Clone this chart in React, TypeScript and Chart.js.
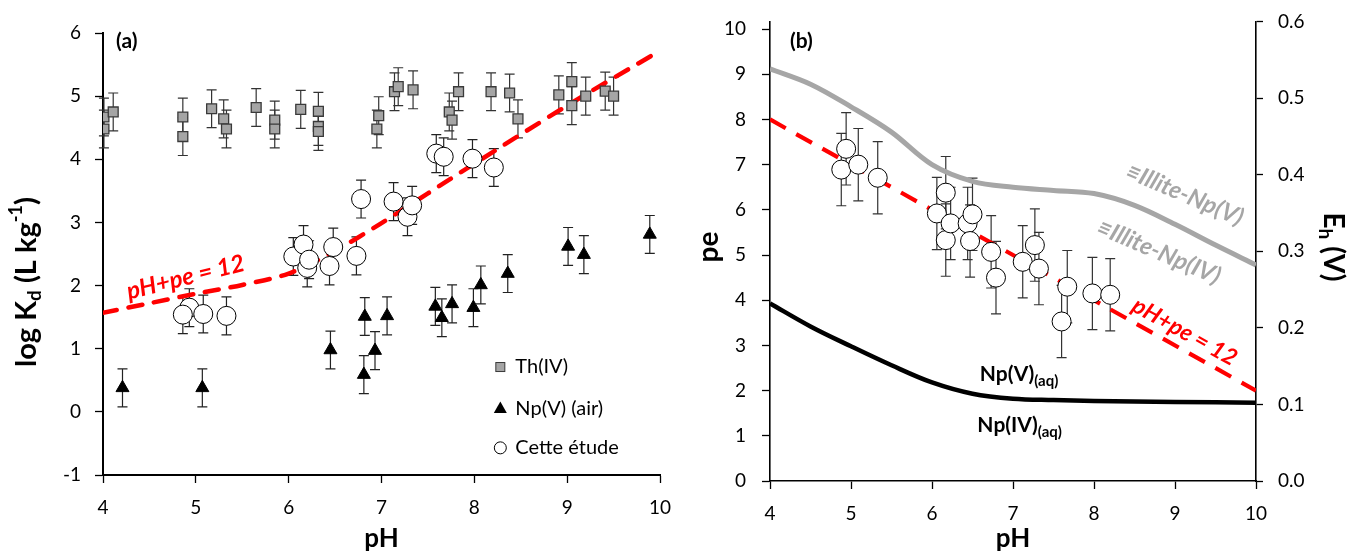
import React, { useEffect, useRef } from "react";
import { Chart, registerables } from "chart.js";
Chart.register(...registerables);

const FONT = "Lato, 'Open Sans', sans-serif";

// ---------- Panel (a) data ----------
const thPH = [4.01, 4.01, 4.11, 4.86, 4.86, 5.17, 5.30, 5.33, 5.65, 5.85, 5.85, 6.13, 6.32, 6.32, 6.32, 6.95, 6.97, 7.14, 7.18, 7.34, 7.73, 7.76, 7.83, 8.18, 8.38, 8.47, 8.91, 9.05, 9.05, 9.20, 9.41, 9.50];
const thLogKd = [4.67, 4.48, 4.75, 4.67, 4.36, 4.80, 4.64, 4.48, 4.82, 4.62, 4.48, 4.79, 4.76, 4.52, 4.44, 4.48, 4.69, 5.07, 5.15, 5.10, 4.75, 4.62, 5.07, 5.07, 5.05, 4.64, 5.02, 5.23, 4.85, 5.00, 5.08, 5.00];
const thErr = 0.3;

const npPH = [4.21, 5.07, 6.45, 6.81, 6.82, 6.93, 7.06, 7.58, 7.65, 7.76, 7.99, 8.07, 8.36, 9.01, 9.18, 9.89];
const npLogKd = [0.38, 0.38, 0.98, 0.59, 1.51, 0.97, 1.52, 1.67, 1.49, 1.71, 1.65, 2.01, 2.19, 2.62, 2.49, 2.81];
const npErr = 0.3;

const studyPH = [4.93, 4.86, 5.08, 5.33, 6.05, 6.20, 6.16, 6.22, 6.44, 6.48, 6.73, 6.78, 7.13, 7.28, 7.33, 7.59, 7.67, 7.98, 8.21];
const studyLogKd = [1.65, 1.54, 1.55, 1.52, 2.46, 2.28, 2.65, 2.41, 2.31, 2.61, 2.47, 3.37, 3.33, 3.09, 3.27, 4.09, 4.04, 4.01, 3.87];
const studyErrA = 0.3;

const redLinePH_A = [4, 4.5, 5, 5.5, 6, 6.5, 7, 7.5, 8, 9, 10];
const redLineLogKd = [1.57, 1.72, 1.87, 2.01, 2.19, 2.55, 2.99, 3.46, 3.93, 4.85, 5.72];

const legendLabels = ["Th(IV)", "Np(V) (air)", "Cette étude"];

// ---------- Panel (b) data ----------
const studyPH_B = [4.88, 4.94, 5.09, 5.33, 6.06, 6.17, 6.17, 6.23, 6.44, 6.50, 6.47, 6.73, 6.79, 7.12, 7.27, 7.32, 7.60, 7.67, 7.98, 8.20];
const studyPe = [6.89, 7.35, 7.00, 6.71, 5.92, 6.38, 5.33, 5.70, 5.70, 5.90, 5.31, 5.07, 4.50, 4.85, 5.22, 4.70, 3.53, 4.30, 4.15, 4.12];
const studyErrB = 0.8;

const illitePH = [4, 4.5, 5, 5.5, 6, 6.5, 7, 7.5, 8, 8.5, 9, 9.5, 10];
const illitePe = [9.12, 8.78, 8.28, 7.72, 7.0, 6.63, 6.5, 6.43, 6.36, 6.1, 5.68, 5.22, 4.78];

const aqPH = [4, 4.5, 5, 5.5, 6, 6.5, 7, 7.5, 8, 9, 10];
const aqPe = [3.93, 3.42, 2.98, 2.56, 2.18, 1.93, 1.82, 1.79, 1.77, 1.75, 1.73];

const redLinePH_B = [4, 10];
const redLinePe = [8, 2];

const xTicks = [4, 5, 6, 7, 8, 9, 10];
const peTicks = [0, 1, 2, 3, 4, 5, 6, 7, 8, 9, 10];

// canvas B is drawn 6px higher so that its plot area starts at the reference's top edge
const B_SHIFT = 6;

// ---------- helpers ----------
type Seg = { t: string; size: number; dy?: number };
function drawSegs(ctx: CanvasRenderingContext2D, segs: Seg[], x: number, y: number, angle: number, weight: string, style: string, color: string, align: "center" | "left") {
  ctx.save();
  ctx.translate(x, y);
  ctx.rotate((angle * Math.PI) / 180);
  ctx.fillStyle = color;
  ctx.textBaseline = "middle";
  ctx.textAlign = "left";
  const fonts = segs.map((s) => `${style} ${weight} ${s.size}px ${FONT}`);
  let total = 0;
  segs.forEach((s, i) => { ctx.font = fonts[i]; total += ctx.measureText(s.t).width; });
  let cx = align === "center" ? -total / 2 : 0;
  segs.forEach((s, i) => {
    ctx.font = fonts[i];
    ctx.fillText(s.t, cx, s.dy || 0);
    cx += ctx.measureText(s.t).width;
  });
  ctx.restore();
}

const errorBarPlugin = {
  id: "errorBars",
  beforeDatasetsDraw(chart: any) {
    const ctx = chart.ctx;
    chart.data.datasets.forEach((ds: any, i: number) => {
      if (ds.errorBar == null) return;
      const meta = chart.getDatasetMeta(i);
      const ys = chart.scales[meta.yAxisID];
      ctx.save();
      ctx.strokeStyle = ds.errorColor || "#000";
      ctx.lineWidth = 1.2;
      meta.data.forEach((el: any, j: number) => {
        const v = ds.data[j].y;
        const x = el.x;
        const top = ys.getPixelForValue(v + ds.errorBar);
        const bot = ys.getPixelForValue(v - ds.errorBar);
        ctx.beginPath();
        ctx.moveTo(x, top); ctx.lineTo(x, bot);
        ctx.moveTo(x - 5, top); ctx.lineTo(x + 5, top);
        ctx.moveTo(x - 5, bot); ctx.lineTo(x + 5, bot);
        ctx.stroke();
      });
      ctx.restore();
    });
  },
};

const pts = (xs: number[], ys: number[]) => xs.map((x, i) => ({ x, y: ys[i] }));

const tickFont = { family: FONT, size: 19 };

function axisX(height: number, bw: number) {
  return {
    type: "linear",
    min: 4,
    max: 10,
    afterBuildTicks: (s: any) => { s.ticks = xTicks.map((v) => ({ value: v })); },
    ticks: { font: tickFont, color: "#000", padding: 13 },
    grid: { display: true, drawOnChartArea: false, tickLength: 8, color: "#000", tickColor: "#000", tickWidth: 1.3 },
    border: { display: true, color: "#000", width: bw },
    afterFit: (s: any) => { s.height = height; },
  };
}

export default function App() {
  const refA = useRef<HTMLCanvasElement>(null);
  const refB = useRef<HTMLCanvasElement>(null);

  useEffect(() => {
    document.body.style.margin = "0";

    const annotA = {
      id: "annotA",
      afterDraw(chart: any) {
        const ctx = chart.ctx;
        const xs = chart.scales.x, ys = chart.scales.y;
        const ca = chart.chartArea;
        drawSegs(ctx, [{ t: "(a)", size: 21 }], ca.left + 13, 41, 0, "bold", "normal", "#000", "left");
        drawSegs(ctx, [{ t: "pH+pe = 12", size: 24 }], xs.getPixelForValue(4.89), ys.getPixelForValue(2.13), -14, "bold", "italic", "#ff0000", "center");
        drawSegs(ctx, [{ t: "log K", size: 29 }, { t: "d", size: 19, dy: 8 }, { t: " (L kg", size: 29 }, { t: "-1", size: 18, dy: -11 }, { t: ")", size: 29 }], 27, 282, -90, "bold", "normal", "#000", "center");
        drawSegs(ctx, [{ t: "pH", size: 26 }], (ca.left + ca.right) / 2, 539, 0, "bold", "normal", "#000", "center");
        // legend
        const lx = xs.getPixelForValue(8.28);
        const tx = lx + 15;
        const ly = [0.71, 0.06, -0.57].map((v) => ys.getPixelForValue(v));
        ctx.save();
        ctx.fillStyle = "#a5a5a5"; ctx.strokeStyle = "#3a3a3a"; ctx.lineWidth = 1;
        ctx.fillRect(lx - 4.5, ly[0] - 4.5, 9, 9); ctx.strokeRect(lx - 4.5, ly[0] - 4.5, 9, 9);
        ctx.fillStyle = "#000";
        ctx.beginPath(); ctx.moveTo(lx, ly[1] - 6.5); ctx.lineTo(lx + 6.5, ly[1] + 5); ctx.lineTo(lx - 6.5, ly[1] + 5); ctx.closePath(); ctx.fill();
        ctx.fillStyle = "#fff"; ctx.strokeStyle = "#000";
        ctx.beginPath(); ctx.arc(lx, ly[2], 6, 0, Math.PI * 2); ctx.fill(); ctx.stroke();
        ctx.restore();
        legendLabels.forEach((t, i) => drawSegs(ctx, [{ t, size: 20 }], tx, ly[i], 0, "normal", "normal", "#000", "left"));
      },
    };

    const chartA = new Chart(refA.current as HTMLCanvasElement, {
      type: "scatter",
      data: {
        datasets: [
          { label: legendLabels[0], data: pts(thPH, thLogKd), pointStyle: "rect", pointRadius: 7, backgroundColor: "#a5a5a5", borderColor: "#3a3a3a", borderWidth: 1.3, errorBar: thErr, errorColor: "#333", order: 3 } as any,
          { label: legendLabels[1], data: pts(npPH, npLogKd), pointStyle: "triangle", pointRadius: 7.5, backgroundColor: "#000", borderColor: "#000", borderWidth: 1, errorBar: npErr, errorColor: "#222", order: 2 } as any,
          { label: legendLabels[2], data: pts(studyPH, studyLogKd), pointStyle: "circle", pointRadius: 9.5, backgroundColor: "#fff", borderColor: "#000", borderWidth: 1, errorBar: studyErrA, errorColor: "#222", order: 1 } as any,
          { type: "line", label: "pH+pe = 12", data: pts(redLinePH_A, redLineLogKd), borderColor: "#ff0000", borderWidth: 4.5, borderDash: [14, 12], borderCapStyle: "round", tension: 0.3, pointRadius: 0, showLine: true, fill: false, order: 10 } as any,
        ],
      },
      options: {
        animation: false,
        responsive: false,
        layout: { padding: { top: 33, right: 30, left: 0, bottom: 0 } },
        plugins: { legend: { display: false }, tooltip: { enabled: false } },
        scales: {
          x: axisX(77, 2) as any,
          y: {
            type: "linear",
            min: -1,
            max: 6,
            ticks: { stepSize: 1, font: tickFont, color: "#000", padding: 14 },
            grid: { display: true, drawOnChartArea: false, tickLength: 8, color: "#000", tickColor: "#000", tickWidth: 1.3 },
            border: { display: true, color: "#000", width: 2 },
            afterFit: (s: any) => { s.width = 103; },
          } as any,
        },
      },
      plugins: [errorBarPlugin, annotA],
    } as any);

    const annotB = {
      id: "annotB",
      afterDraw(chart: any) {
        const ctx = chart.ctx;
        const xs = chart.scales.x, ys = chart.scales.y;
        const ca = chart.chartArea;
        drawSegs(ctx, [{ t: "(b)", size: 21 }], ca.left + 20, 41 + B_SHIFT, 0, "bold", "normal", "#000", "left");
        drawSegs(ctx, [{ t: "≡Illite-Np(V)", size: 24 }], xs.getPixelForValue(9.12), ys.getPixelForValue(6.34), 23, "bold", "italic", "#a6a6a6", "center");
        drawSegs(ctx, [{ t: "≡Illite-Np(IV)", size: 24 }], xs.getPixelForValue(8.8), ys.getPixelForValue(5.07), 23, "bold", "italic", "#a6a6a6", "center");
        drawSegs(ctx, [{ t: "pH+pe = 12", size: 23 }], xs.getPixelForValue(9.12), ys.getPixelForValue(3.3), 29, "bold", "italic", "#ff0000", "center");
        drawSegs(ctx, [{ t: "Np(V)", size: 21 }, { t: "(aq)", size: 15, dy: 7 }], xs.getPixelForValue(6.59), ys.getPixelForValue(2.37), 0, "bold", "normal", "#000", "left");
        drawSegs(ctx, [{ t: "Np(IV)", size: 21 }, { t: "(aq)", size: 15, dy: 7 }], xs.getPixelForValue(6.56), ys.getPixelForValue(1.23), 0, "bold", "normal", "#000", "left");
        drawSegs(ctx, [{ t: "pe", size: 28 }], 19, 247 + B_SHIFT, -90, "bold", "normal", "#000", "center");
        drawSegs(ctx, [{ t: "pH", size: 26 }], (ca.left + ca.right) / 2, 539 + B_SHIFT, 0, "bold", "normal", "#000", "center");
        drawSegs(ctx, [{ t: "E", size: 28 }, { t: "h", size: 19, dy: 8 }, { t: " (V)", size: 28 }], 643, 247 + B_SHIFT, 90, "bold", "normal", "#000", "center");
      },
    };

    const chartB = new Chart(refB.current as HTMLCanvasElement, {
      type: "scatter",
      data: {
        datasets: [
          { label: "Cette étude", data: pts(studyPH_B, studyPe), pointStyle: "circle", pointRadius: 9.5, backgroundColor: "#fff", borderColor: "#000", borderWidth: 1, errorBar: studyErrB, errorColor: "#333", order: 1 } as any,
          { type: "line", label: "pH+pe = 12", data: pts(redLinePH_B, redLinePe), borderColor: "#ff0000", borderWidth: 4.2, borderDash: [18, 12], borderCapStyle: "butt", pointRadius: 0, showLine: true, fill: false, order: 4 } as any,
          { type: "line", label: "≡Illite-Np(V)/(IV)", data: pts(illitePH, illitePe), borderColor: "#a6a6a6", borderWidth: 5, tension: 0.35, pointRadius: 0, showLine: true, fill: false, order: 5 } as any,
          { type: "line", label: "Np(V)/Np(IV) aq", data: pts(aqPH, aqPe), borderColor: "#000", borderWidth: 4.5, tension: 0.35, pointRadius: 0, showLine: true, fill: false, order: 6 } as any,
        ],
      },
      options: {
        animation: false,
        responsive: false,
        layout: { padding: { top: 13, right: 0, left: 0, bottom: 0 } },
        plugins: { legend: { display: false }, tooltip: { enabled: false } },
        scales: {
          x: axisX(71, 1.6) as any,
          y: {
            type: "linear",
            position: "left",
            min: 0,
            max: 0.6 / 0.059,
            afterBuildTicks: (s: any) => { s.ticks = peTicks.map((v) => ({ value: v })); },
            ticks: { font: tickFont, color: "#000", padding: 16 },
            grid: { display: true, drawOnChartArea: false, tickLength: 8, color: "#000", tickColor: "#000", tickWidth: 1.3 },
            border: { display: true, color: "#000", width: 1.6 },
            afterFit: (s: any) => { s.width = 80; },
          } as any,
          y2: {
            type: "linear",
            position: "right",
            min: 0,
            max: 0.6,
            ticks: { stepSize: 0.1, font: tickFont, color: "#000", padding: 15, callback: (v: any) => Number(v).toFixed(1) },
            grid: { display: true, drawOnChartArea: false, tickLength: 7, color: "#000", tickColor: "#000", tickWidth: 1.3 },
            border: { display: true, color: "#000", width: 1.6 },
            afterFit: (s: any) => { s.width = 97; },
          } as any,
        },
      },
      plugins: [errorBarPlugin, annotB],
    } as any);

    return () => { chartA.destroy(); chartB.destroy(); };
  }, []);

  return (
    <div style={{ position: "relative", width: 1353, height: 552, background: "#fff", overflow: "hidden" }}>
      <canvas ref={refA} width={690} height={552} style={{ position: "absolute", left: 0, top: 0 }} />
      <canvas ref={refB} width={663} height={552 + B_SHIFT} style={{ position: "absolute", left: 690, top: -B_SHIFT }} />
    </div>
  );
}
